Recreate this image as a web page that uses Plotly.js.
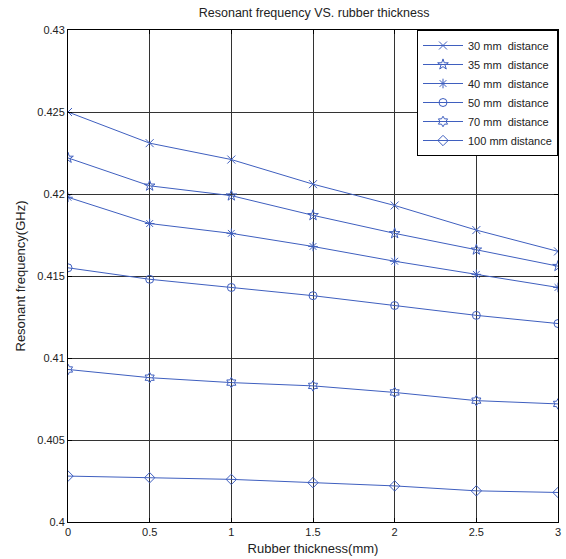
<!DOCTYPE html>
<html><head><meta charset="utf-8">
<script src="https://cdn.plot.ly/plotly-3.0.1.min.js"></script>
<style>html,body{margin:0;padding:0;background:#fff}#chart{width:566px;height:559px}</style>
</head><body><div id="chart"></div>
<script>
const thickness = [0, 0.5, 1, 1.5, 2, 2.5, 3];
const seriesNames = ["30 mm  distance", "35 mm  distance", "40 mm  distance", "50 mm  distance", "70 mm  distance", "100 mm distance"];
const d30  = [0.4250, 0.4231, 0.4221, 0.4206, 0.4193, 0.4178, 0.4165];
const d35  = [0.4222, 0.4205, 0.4199, 0.4187, 0.4176, 0.4166, 0.4156];
const d40  = [0.4198, 0.4182, 0.4176, 0.4168, 0.4159, 0.4151, 0.4143];
const d50  = [0.4155, 0.4148, 0.4143, 0.4138, 0.4132, 0.4126, 0.4121];
const d70  = [0.4093, 0.4088, 0.4085, 0.4083, 0.4079, 0.4074, 0.4072];
const d100 = [0.4028, 0.4027, 0.4026, 0.4024, 0.4022, 0.4019, 0.4018];
const allSeries = [d30, d35, d40, d50, d70, d100];
const symbols = ["x-thin-open", "star-open", "asterisk-open", "circle-open", "hexagram-open", "diamond-open"];
const lineColor = "#3f5fbf";

const traces = allSeries.map((ys, i) => ({
  x: thickness, y: ys, name: seriesNames[i], type: "scatter", mode: "lines+markers",
  line: {color: lineColor, width: 1},
  marker: {symbol: symbols[i], size: 8, color: lineColor, line: {color: lineColor, width: 1}}
}));

const axisCommon = {
  showline: true, mirror: "ticks", linecolor: "#000", linewidth: 1,
  showgrid: true, gridcolor: "#333", gridwidth: 1,
  ticks: "inside", ticklen: 4, tickcolor: "#000", zeroline: false,
  tickfont: {family: "Liberation Sans, Arial, sans-serif", size: 11, color: "#222"}
};

const layout = {
  width: 566, height: 559,
  margin: {l: 68, r: 8, t: 30, b: 37},
  paper_bgcolor: "#fff", plot_bgcolor: "#fff",
  title: {text: "Resonant frequency VS. rubber thickness", x: 0.555, xanchor: "center", y: 0.985, yanchor: "top",
          font: {family: "Liberation Sans, Arial, sans-serif", size: 12.5, color: "#222"}},
  xaxis: Object.assign({}, axisCommon, {range: [0, 3], tickvals: thickness, ticktext: ["0","0.5","1","1.5","2","2.5","3"],
    title: {text: "Rubber thickness(mm)", standoff: 6, font: {family: "Liberation Sans, Arial, sans-serif", size: 13, color: "#222"}}}),
  yaxis: Object.assign({}, axisCommon, {range: [0.4, 0.43], tickvals: [0.4, 0.405, 0.41, 0.415, 0.42, 0.425, 0.43],
    ticktext: ["0.4","0.405","0.41","0.415","0.42","0.425","0.43"],
    title: {text: "Resonant frequency(GHz)", standoff: 8, font: {family: "Liberation Sans, Arial, sans-serif", size: 13, color: "#222"}}}),
  showlegend: true,
  legend: {x: 1, xanchor: "right", y: 1, yanchor: "top", bgcolor: "#fff", bordercolor: "#000", borderwidth: 1,
    font: {family: "Liberation Sans, Arial, sans-serif", size: 11, color: "#222"}, tracegroupgap: 0, itemwidth: 40}
};

Plotly.newPlot("chart", traces, layout, {displayModeBar: false, staticPlot: true});
</script></body></html>
